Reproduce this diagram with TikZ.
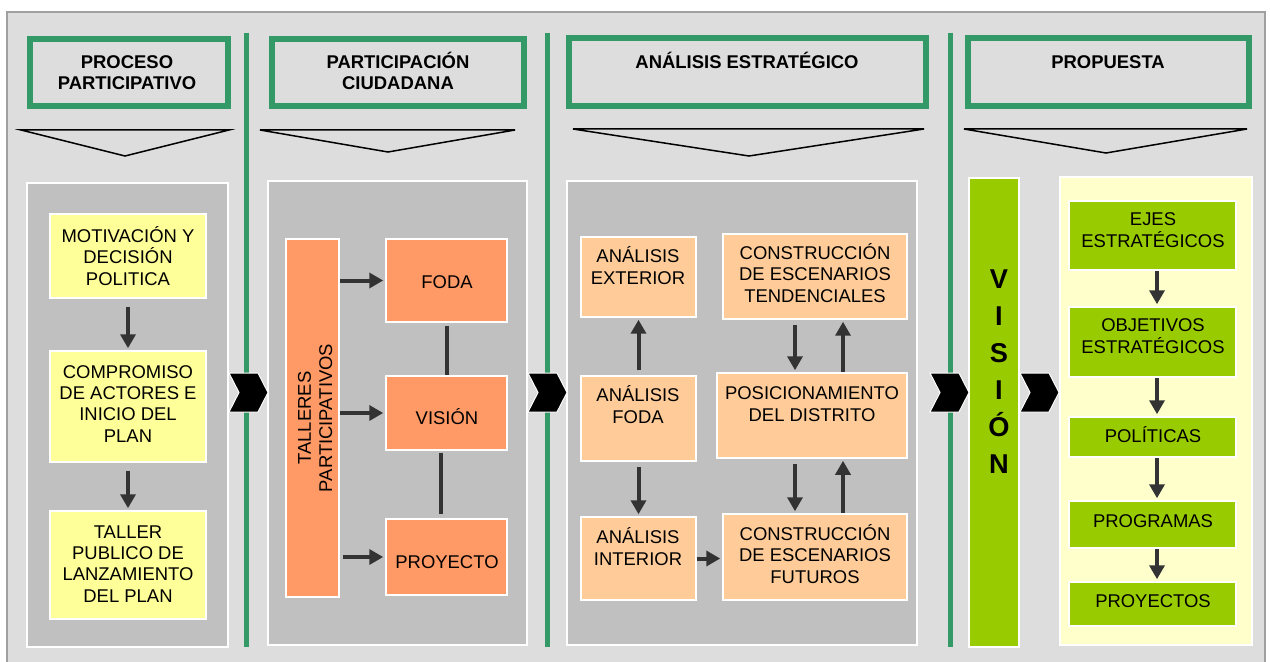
\documentclass[tikz,border=0pt]{standalone}
\usepackage{fontspec}
\setmainfont{Liberation Sans}
\usetikzlibrary{arrows.meta,fit}

\definecolor{fondo}{HTML}{DDDDDD}
\definecolor{marco}{HTML}{A0A0A0}
\definecolor{verdeosc}{HTML}{339966}
\definecolor{grispanel}{HTML}{C0C0C0}
\definecolor{amarillo}{HTML}{FFFF99}
\definecolor{naranja}{HTML}{FF9966}
\definecolor{salmon}{HTML}{FFCC99}
\definecolor{verdeclaro}{HTML}{99CC00}
\definecolor{crema}{HTML}{FFFFCC}
\definecolor{flecha}{HTML}{333333}

\newcommand{\letra}{\fontsize{10.5}{12}\selectfont}

\begin{document}
\begin{tikzpicture}[x=0.02cm, y=-0.02cm,
panel_style/.style={draw=white, line width=0.03cm, inner sep=0pt},
caja_style/.style={draw=white, line width=0.03cm, inner sep=0pt},
titulo_style/.style={draw=verdeosc, line width=0.12cm, inner sep=0pt},
txt_style/.style={anchor=base, inner sep=0pt, align=center, font=\letra},
flecha_style/.style={draw=flecha, line width=0.08cm, -{Triangle[width=0.3cm,length=0.28cm]}, shorten <=0.1cm, shorten >=0.04cm},
linea_style/.style={draw=flecha, line width=0.08cm}]

\useasboundingbox (0,0) rectangle (1270,662);
\fill[white] (0,0) rectangle (1270,662);
\fill[fondo] (7,12) rectangle (1265,662);
\draw[marco, line width=0.04cm] (7,662) -- (7,12) -- (1265,12) -- (1265,662);

% columnas
\foreach \sx in {246,547,950}
  \draw[verdeosc, line width=0.1cm] (\sx,33) -- (\sx,647);

% titulos (texto anclado en la ultima linea)
\node[titulo_style, fit={(30,39) (228,106)}] (h1) {};
\node[titulo_style, fit={(272,39) (524,106)}] (h2) {};
\node[titulo_style, fit={(569,38) (926,106)}] (h3) {};
\node[titulo_style, fit={(968,38) (1249,106)}] (h4) {};
\node[txt_style, font=\letra\bfseries] (h1t) at (127,90) {PROCESO\\PARTICIPATIVO};
\node[txt_style, font=\letra\bfseries] (h2t) at (398,90) {PARTICIPACIÓN\\CIUDADANA};
\node[txt_style, font=\letra\bfseries] (h3t) at (747,69) {ANÁLISIS ESTRATÉGICO};
\node[txt_style, font=\letra\bfseries] (h4t) at (1108,69) {PROPUESTA};

\draw[line width=0.03cm] (21,130) -- (229,130) -- (125,156) -- cycle;
\draw[line width=0.03cm] (260,130) -- (515,130) -- (388,152) -- cycle;
\draw[line width=0.03cm] (573,129) -- (924,129) -- (749,156) -- cycle;
\draw[line width=0.03cm] (964,129) -- (1247,129) -- (1106,153) -- cycle;

% paneles
\node[panel_style, fill=grispanel, fit={(27,183) (228,647)}] (p1) {};
\node[panel_style, fill=grispanel, fit={(268,181) (527,645)}] (p2) {};
\node[panel_style, fill=grispanel, fit={(567,181) (917,645)}] (p3) {};
\node[panel_style, fill=crema, fit={(1060,177) (1252,645)}] (p4) {};

% proceso participativo
\node[caja_style, fill=amarillo, fit={(50,214) (206,298)}] (motiv) {};
\node[caja_style, fill=amarillo, fit={(50,351) (206,462)}] (compro) {};
\node[caja_style, fill=amarillo, fit={(50,511) (206,619)}] (taller) {};
\node[txt_style] (motivt) at (128,285) {MOTIVACIÓN Y\\DECISIÓN\\POLITICA};
\node[txt_style] (comprot) at (128,442) {COMPROMISO\\DE ACTORES E\\INICIO DEL\\PLAN};
\node[txt_style] (tallert) at (128,602) {TALLER\\PUBLICO DE\\LANZAMIENTO\\DEL PLAN};
\draw[flecha_style, shorten <=0.16cm] (motiv.south) -- (compro.north);
\draw[flecha_style, shorten <=0.16cm] (compro.south) -- (taller.north);

% participacion ciudadana
\node[caja_style, fill=naranja, fit={(286,239) (339,597)}] (talleres) {};
\node[caja_style, fill=naranja, fit={(386,239) (507,322)}] (foda) {};
\node[caja_style, fill=naranja, fit={(386,376) (507,450)}] (vision) {};
\node[caja_style, fill=naranja, fit={(386,519) (507,595)}] (proyecto) {};
\node[txt_style, rotate=90] (tallerest) at (332,418) {TALLERES\\PARTICIPATIVOS};
\node[txt_style] (fodat) at (447,288) {FODA};
\node[txt_style] (visiont) at (447,424) {VISIÓN};
\node[txt_style] (proyectot) at (447,568) {PROYECTO};
\draw[flecha_style, shorten <=0pt] (talleres.east |- foda.west) -- (foda.west);
\draw[flecha_style, shorten <=0pt] (talleres.east |- vision.west) -- (vision.west);
\draw[flecha_style, shorten <=0.06cm] (talleres.east |- proyecto.west) -- (proyecto.west);
\draw[linea_style, shorten <=0.06cm] (foda.south) -- (vision.north);
\draw[linea_style, shorten <=0.04cm, shorten >=0.08cm] ([xshift=-0.12cm]vision.south) -- ([xshift=-0.12cm]proyecto.north);

% analisis estrategico
\node[caja_style, fill=salmon, fit={(581,237) (696,317)}] (aext) {};
\node[caja_style, fill=salmon, fit={(581,376) (696,461)}] (afoda) {};
\node[caja_style, fill=salmon, fit={(581,517) (696,600)}] (aint) {};
\node[caja_style, fill=salmon, fit={(723,234) (907,319)}] (tend) {};
\node[caja_style, fill=salmon, fit={(717,373) (907,458)}] (posic) {};
\node[caja_style, fill=salmon, fit={(723,514) (907,600)}] (futuros) {};
\node[txt_style] (aextt) at (638,284) {ANÁLISIS\\EXTERIOR};
\node[txt_style] (afodat) at (638,423) {ANÁLISIS\\FODA};
\node[txt_style] (aintt) at (638,565) {ANÁLISIS\\INTERIOR};
\node[txt_style] (tendt) at (815,302) {CONSTRUCCIÓN\\DE ESCENARIOS\\TENDENCIALES};
\node[txt_style] (posict) at (812,421) {POSICIONAMIENTO\\DEL DISTRITO};
\node[txt_style] (futurost) at (815,583) {CONSTRUCCIÓN\\DE ESCENARIOS\\FUTUROS};
\coordinate (bajada) at (795,0);
\coordinate (subida) at (843,0);
\draw[flecha_style] (afoda.north) -- (aext.south);
\draw[flecha_style] (afoda.south) -- (aint.north);
\draw[flecha_style, shorten <=0pt] (aint.east) -- (aint.east -| futuros.west);
\draw[flecha_style] (tend.south -| bajada) -- (posic.north -| bajada);
\draw[flecha_style, shorten <=0pt] (posic.north -| subida) -- (tend.south -| subida);
\draw[flecha_style] (posic.south -| bajada) -- (futuros.north -| bajada);
\draw[flecha_style, shorten <=0pt] (futuros.north -| subida) -- (posic.south -| subida);

% propuesta
\node[caja_style, fill=verdeclaro, fit={(969,178) (1019,647)}] (visionbar) {};
\node[txt_style, font=\fontsize{15.5}{21}\selectfont\bfseries] (visionbart) at (999,473) {V\\I\\S\\I\\Ó\\N};
\node[caja_style, fill=verdeclaro, fit={(1069,201) (1236,270)}] (ejes) {};
\node[caja_style, fill=verdeclaro, fit={(1069,307) (1236,377)}] (objetivos) {};
\node[caja_style, fill=verdeclaro, fit={(1069,417) (1236,457)}] (politicas) {};
\node[caja_style, fill=verdeclaro, fit={(1069,501) (1236,548)}] (programas) {};
\node[caja_style, fill=verdeclaro, fit={(1069,582) (1236,626)}] (proyectos) {};
\node[txt_style] (ejest) at (1153,247) {EJES\\ESTRATÉGICOS};
\node[txt_style] (objetivost) at (1153,353) {OBJETIVOS\\ESTRATÉGICOS};
\node[txt_style] (politicast) at (1153,442) {POLÍTICAS};
\node[txt_style] (programast) at (1153,527) {PROGRAMAS};
\node[txt_style] (proyectost) at (1153,607) {PROYECTOS};
\coordinate (eje) at (1157,0);
\draw[flecha_style, shorten <=0pt] (ejes.south -| eje) -- (objetivos.north -| eje);
\draw[flecha_style, shorten <=0pt] (objetivos.south -| eje) -- (politicas.north -| eje);
\draw[flecha_style, shorten <=0pt] (politicas.south -| eje) -- (programas.north -| eje);
\draw[flecha_style, shorten <=0pt] (programas.south -| eje) -- (proyectos.north -| eje);

% flechas entre columnas
\foreach \cx in {229,528,930,1020}
  \filldraw[black, draw=white, line width=0.02cm] (\cx,373) -- ++(29,0) -- ++(10,19.5) -- ++(-10,19.5) -- ++(-29,0) -- ++(10,-19.5) -- cycle;
\end{tikzpicture}
\end{document}
